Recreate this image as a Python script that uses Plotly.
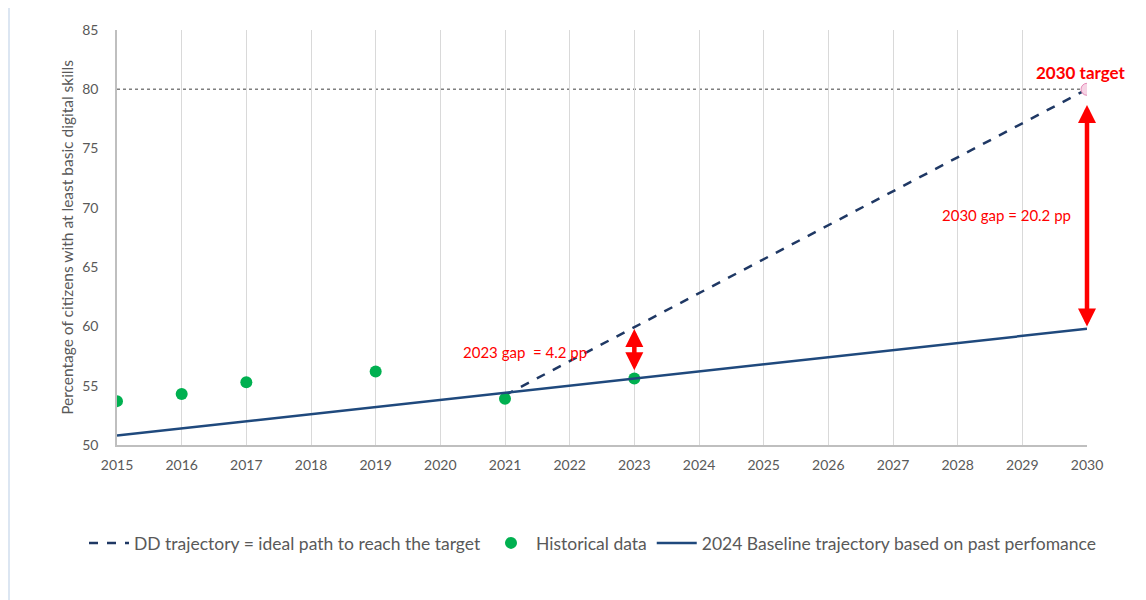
import plotly.graph_objects as go

# ---- data ----
hist_years = [2015, 2016, 2017, 2019, 2021, 2023]
hist_values = [53.7, 54.3, 55.3, 56.2, 53.9, 55.6]

baseline_years = [2015, 2030]
baseline_values = [50.8, 59.8]

dd_years = [2021, 2030]
dd_values = [54.2, 80.0]

target_year = 2030
target_value = 80

# year, arrow bottom, arrow top
gap_2023 = (2023, 56.3, 59.9)
gap_2030 = (2030, 60.0, 78.8)

x_ticks = list(range(2015, 2031))
y_ticks = [50, 55, 60, 65, 70, 75, 80, 85]

FONT = "Lato, 'Open Sans', sans-serif"
GRAY = "#595959"

fig = go.Figure()

fig.add_trace(go.Scatter(
    x=dd_years, y=dd_values, mode="lines",
    name="DD trajectory = ideal path to reach the target",
    line=dict(color="#1f3864", width=2.5, dash="dash"),
))
fig.add_trace(go.Scatter(
    x=hist_years, y=hist_values, mode="markers",
    name="Historical data",
    marker=dict(color="#00b050", size=12),
))
fig.add_trace(go.Scatter(
    x=baseline_years, y=baseline_values, mode="lines",
    name="2024 Baseline trajectory based on past perfomance",
    line=dict(color="#1f497d", width=2.5),
))
fig.add_trace(go.Scatter(
    x=[target_year], y=[target_value], mode="markers", showlegend=False,
    marker=dict(color="#f6d3e4", size=12, line=dict(color="#e58ab8", width=1)),
))

# target dotted line
fig.add_shape(type="line", x0=2015, x1=2030, y0=target_value, y1=target_value,
              xref="x", yref="y", line=dict(color="#7f7f7f", width=1.5, dash="dot"),
              layer="below")

# gap arrows
for (yr, lo, hi) in [gap_2023, gap_2030]:
    fig.add_annotation(
        x=yr, y=lo, ax=yr, ay=hi,
        xref="x", yref="y", axref="x", ayref="y",
        showarrow=True, arrowside="end+start", arrowhead=2, startarrowhead=2,
        arrowsize=0.8, startarrowsize=0.8, arrowwidth=4.5, arrowcolor="#ff0000", text="",
    )

fig.add_annotation(x=2029.9, y=81.4, text="<b>2030 target</b>", showarrow=False,
                   font=dict(color="#ff0000", size=17, family=FONT))
fig.add_annotation(x=2028.76, y=69.4, text="2030 gap = 20.2 pp", showarrow=False,
                   font=dict(color="#ff0000", size=15, family=FONT))
fig.add_annotation(x=2021.31, y=57.84, text="2023 gap  = 4.2 pp", showarrow=False,
                   font=dict(color="#ff0000", size=15, family=FONT))

# page has an 8px body margin; figure is placed at (8, 8)
OFF = 8
W, H = 1146 - OFF, 600 - OFF
L, T = 117 - OFF, 30 - OFF
PW, PH = 970, 415
R = W - L - PW
B = H - T - PH

def px_x(p):
    return (p - OFF - L) / PW
def px_y(p):
    return (H - B - (p - OFF)) / PH

# light blue frame strip (paper coords)
fig.add_shape(type="rect", xref="paper", yref="paper",
              x0=px_x(OFF), x1=px_x(10), y0=px_y(600), y1=px_y(OFF),
              fillcolor="#dce6f2", line=dict(width=0), layer="below")

fig.update_layout(
    width=W, height=H,
    margin=dict(l=L, r=R, t=T, b=B, pad=0),
    paper_bgcolor="white", plot_bgcolor="white",
    font=dict(family=FONT, color=GRAY, size=13),
    showlegend=True,
    legend=dict(orientation="h", x=px_x(84), xanchor="left",
                y=px_y(543), yanchor="middle",
                font=dict(size=17.5, color=GRAY, family=FONT), itemwidth=40,
                tracegroupgap=0),
)
fig.update_xaxes(range=[2015, 2030], tickvals=x_ticks, showgrid=True, gridcolor="#d9d9d9",
                 gridwidth=1, showline=True, linecolor="#bfbfbf", linewidth=1.5,
                 zeroline=False, tickfont=dict(size=14, color=GRAY), ticks="",
                 ticklabelstandoff=6)
fig.update_yaxes(range=[50, 85], tickvals=y_ticks, showgrid=False, showline=True,
                 linecolor="#bfbfbf", linewidth=1.5, zeroline=False,
                 tickfont=dict(size=14, color=GRAY), ticks="", ticklabelstandoff=14,
                 title=dict(text="Percentage of citizens with at least basic digital skills",
                            font=dict(size=15.5, color=GRAY), standoff=5))

fig.write_html("out.html")
